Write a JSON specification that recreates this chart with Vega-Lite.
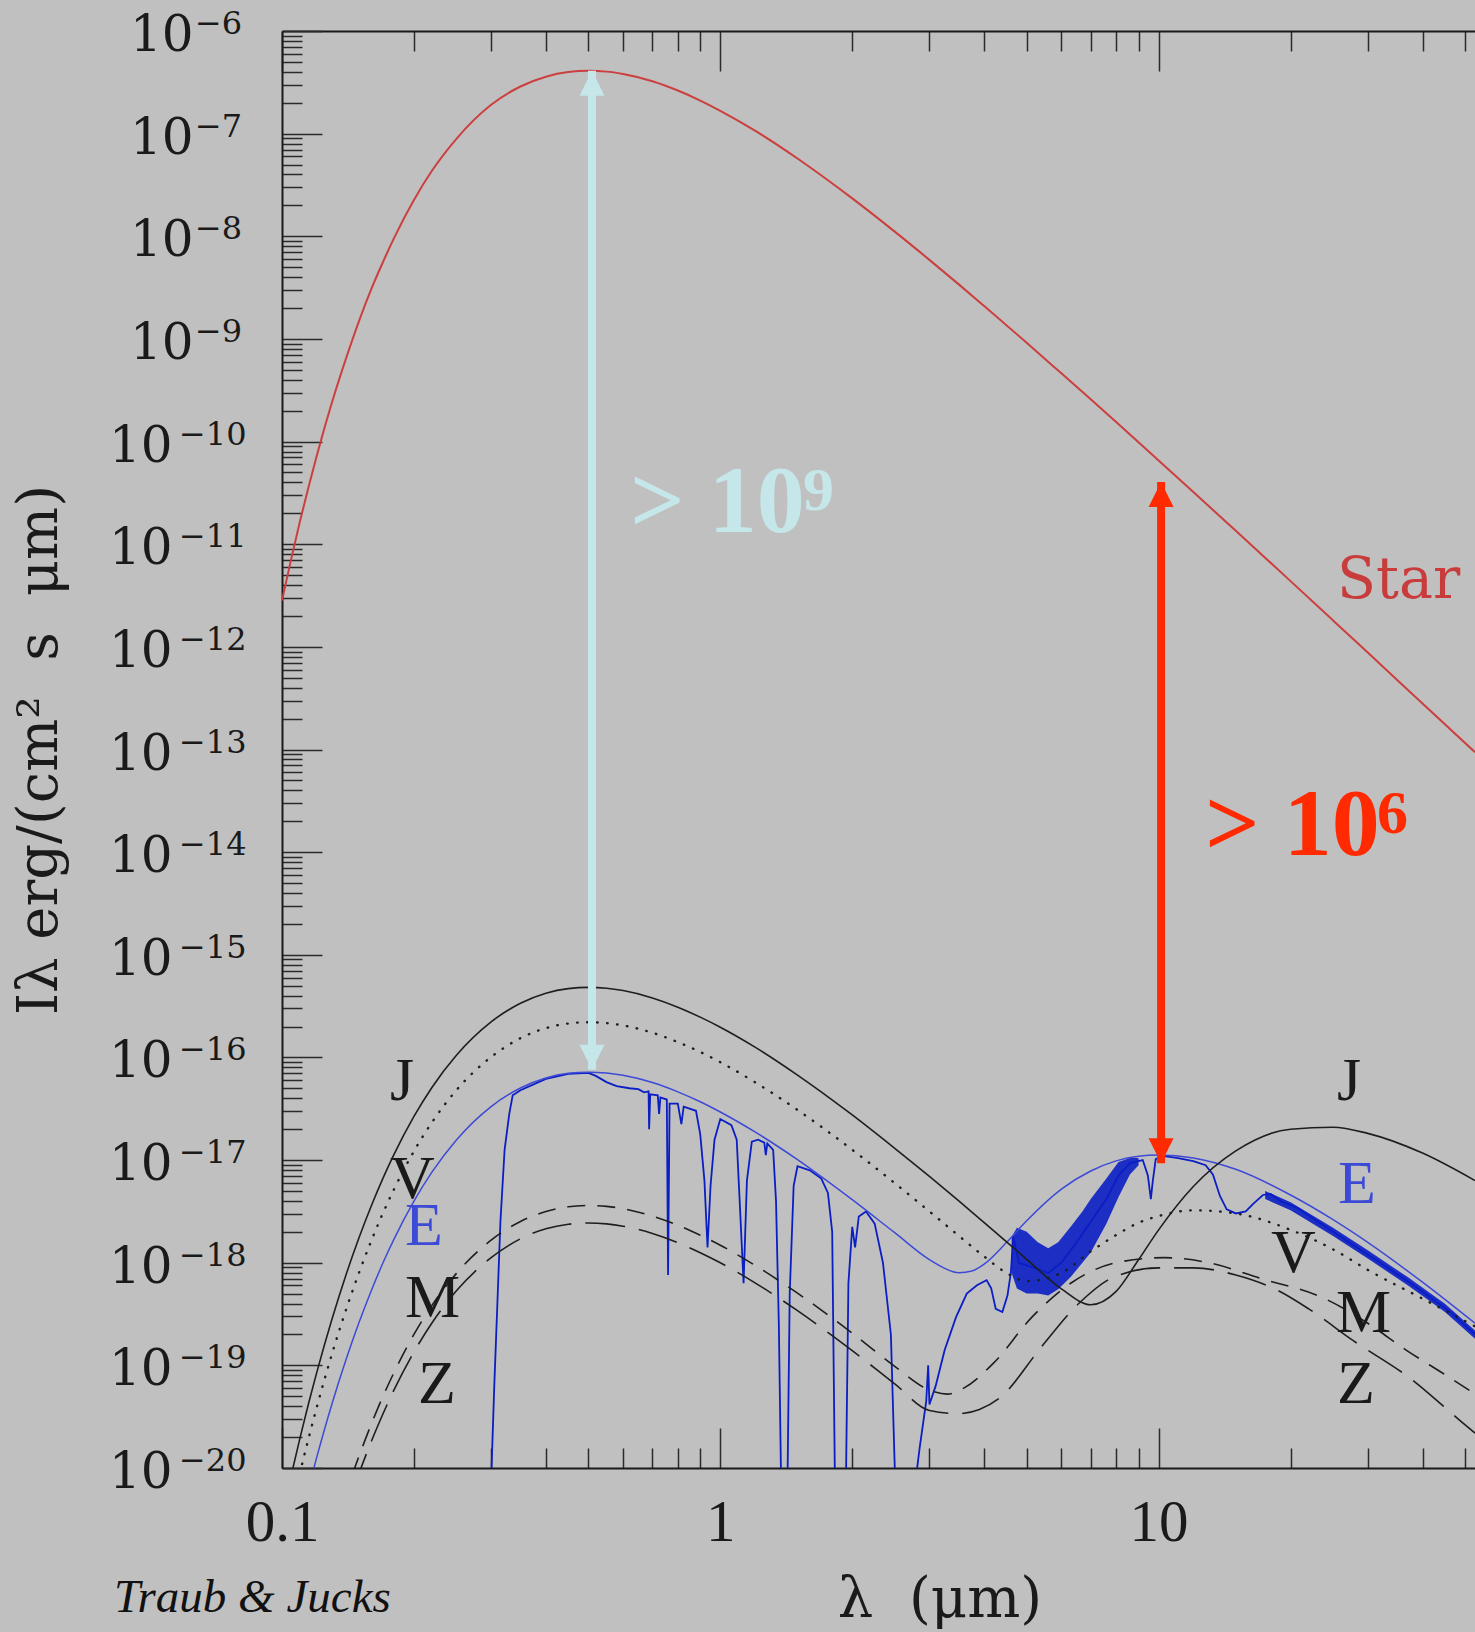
{
"$schema":"https://vega.github.io/schema/vega-lite/v6.json",
"width":1193,"height":1437,
"autosize":{"type":"none"},
"padding":{"left":282,"top":31,"right":0,"bottom":164},
"background":"#c0c0c0",
"config":{"view":{"stroke":null},"axis":{"grid":false}},
"resolve":{"axis":{"x":"independent","y":"independent"}},
"datasets":{
"star":[{"lam":0.1,"I":2.82e-12},{"lam":0.105,"I":7.24e-12},{"lam":0.11,"I":1.70e-11},{"lam":0.115,"I":3.63e-11},{"lam":0.12,"I":7.24e-11},{"lam":0.13,"I":2.40e-10},{"lam":0.14,"I":6.46e-10},{"lam":0.15,"I":1.51e-9},{"lam":0.16,"I":3.09e-9},{"lam":0.17,"I":5.62e-9},{"lam":0.18,"I":9.55e-9},{"lam":0.2,"I":2.26e-8},{"lam":0.22,"I":4.37e-8},{"lam":0.25,"I":8.91e-8},{"lam":0.3,"I":1.91e-7},{"lam":0.35,"I":2.88e-7},{"lam":0.4,"I":3.59e-7},{"lam":0.45,"I":3.98e-7},{"lam":0.5,"I":4.09e-7},{"lam":0.55,"I":4.02e-7},{"lam":0.6,"I":3.81e-7},{"lam":0.7,"I":3.24e-7},{"lam":0.8,"I":2.63e-7},{"lam":0.9,"I":2.10e-7},{"lam":1,"I":1.67e-7},{"lam":1.2,"I":1.07e-7},{"lam":1.5,"I":5.73e-8},{"lam":2,"I":2.34e-8},{"lam":2.5,"I":1.11e-8},{"lam":3,"I":5.89e-9},{"lam":3.5,"I":3.40e-9},{"lam":4,"I":2.09e-9},{"lam":5,"I":9.18e-10},{"lam":6,"I":4.62e-10},{"lam":7,"I":2.58e-10},{"lam":8,"I":1.55e-10},{"lam":10,"I":6.55e-11},{"lam":12,"I":3.23e-11},{"lam":15,"I":1.35e-11},{"lam":20,"I":4.37e-12},{"lam":25,"I":1.81e-12},{"lam":30,"I":8.79e-13},{"lam":40,"I":2.81e-13},{"lam":52.7,"I":9.42e-14}],
"jup":[{"lam":0.1,"I":3.33e-21},{"lam":0.105,"I":8.55e-21},{"lam":0.11,"I":1.99e-20},{"lam":0.115,"I":4.28e-20},{"lam":0.12,"I":8.49e-20},{"lam":0.13,"I":2.81e-19},{"lam":0.14,"I":7.64e-19},{"lam":0.15,"I":1.77e-18},{"lam":0.16,"I":3.61e-18},{"lam":0.17,"I":6.67e-18},{"lam":0.18,"I":1.13e-17},{"lam":0.2,"I":2.66e-17},{"lam":0.22,"I":5.13e-17},{"lam":0.25,"I":1.05e-16},{"lam":0.3,"I":2.22e-16},{"lam":0.35,"I":3.37e-16},{"lam":0.4,"I":4.22e-16},{"lam":0.45,"I":4.68e-16},{"lam":0.5,"I":4.81e-16},{"lam":0.55,"I":4.72e-16},{"lam":0.6,"I":4.48e-16},{"lam":0.7,"I":3.80e-16},{"lam":0.8,"I":3.09e-16},{"lam":0.9,"I":2.47e-16},{"lam":1,"I":1.97e-16},{"lam":1.2,"I":1.26e-16},{"lam":1.5,"I":6.73e-17},{"lam":2,"I":2.75e-17},{"lam":2.5,"I":1.30e-17},{"lam":3,"I":6.92e-18},{"lam":3.5,"I":4.00e-18},{"lam":4,"I":2.46e-18},{"lam":5,"I":1.08e-18},{"lam":6,"I":5.56e-19},{"lam":7,"I":3.89e-19},{"lam":8,"I":5.25e-19},{"lam":9,"I":1.07e-18},{"lam":10,"I":2.09e-18},{"lam":12,"I":5.53e-18},{"lam":15,"I":1.23e-17},{"lam":20,"I":2.00e-17},{"lam":25,"I":2.09e-17},{"lam":30,"I":1.82e-17},{"lam":40,"I":1.17e-17},{"lam":52.7,"I":6.31e-18}],
"ven":[{"lam":0.1,"I":1.52e-21},{"lam":0.105,"I":3.91e-21},{"lam":0.11,"I":9.10e-21},{"lam":0.115,"I":1.95e-20},{"lam":0.12,"I":3.88e-20},{"lam":0.13,"I":1.29e-19},{"lam":0.14,"I":3.49e-19},{"lam":0.15,"I":8.07e-19},{"lam":0.16,"I":1.65e-18},{"lam":0.17,"I":3.05e-18},{"lam":0.18,"I":5.16e-18},{"lam":0.2,"I":1.22e-17},{"lam":0.22,"I":2.34e-17},{"lam":0.25,"I":4.80e-17},{"lam":0.3,"I":1.01e-16},{"lam":0.35,"I":1.54e-16},{"lam":0.4,"I":1.93e-16},{"lam":0.45,"I":2.14e-16},{"lam":0.5,"I":2.20e-16},{"lam":0.55,"I":2.16e-16},{"lam":0.6,"I":2.05e-16},{"lam":0.7,"I":1.74e-16},{"lam":0.8,"I":1.41e-16},{"lam":0.9,"I":1.13e-16},{"lam":1,"I":8.99e-17},{"lam":1.2,"I":5.74e-17},{"lam":1.5,"I":3.08e-17},{"lam":2,"I":1.26e-17},{"lam":2.5,"I":5.96e-18},{"lam":3,"I":3.16e-18},{"lam":3.5,"I":1.83e-18},{"lam":4,"I":1.15e-18},{"lam":4.5,"I":7.94e-19},{"lam":5,"I":6.61e-19},{"lam":6,"I":7.94e-19},{"lam":7,"I":1.29e-18},{"lam":8,"I":1.86e-18},{"lam":9,"I":2.45e-18},{"lam":10,"I":2.85e-18},{"lam":12,"I":3.24e-18},{"lam":15,"I":3.02e-18},{"lam":20,"I":2.09e-18},{"lam":25,"I":1.35e-18},{"lam":30,"I":8.51e-19},{"lam":40,"I":4.47e-19},{"lam":52.7,"I":2.40e-19}],
"earth":[{"lam":0.1,"I":4.99e-22},{"lam":0.105,"I":1.28e-21},{"lam":0.11,"I":2.98e-21},{"lam":0.115,"I":6.40e-21},{"lam":0.12,"I":1.27e-20},{"lam":0.13,"I":4.21e-20},{"lam":0.14,"I":1.14e-19},{"lam":0.15,"I":2.64e-19},{"lam":0.16,"I":5.40e-19},{"lam":0.17,"I":9.98e-19},{"lam":0.18,"I":1.69e-18},{"lam":0.2,"I":3.98e-18},{"lam":0.22,"I":7.67e-18},{"lam":0.25,"I":1.57e-17},{"lam":0.3,"I":3.32e-17},{"lam":0.35,"I":5.04e-17},{"lam":0.4,"I":6.31e-17},{"lam":0.45,"I":7.00e-17},{"lam":0.5,"I":7.19e-17},{"lam":0.55,"I":7.06e-17},{"lam":0.6,"I":6.70e-17},{"lam":0.7,"I":5.69e-17},{"lam":0.8,"I":4.62e-17},{"lam":0.9,"I":3.70e-17},{"lam":1,"I":2.94e-17},{"lam":1.2,"I":1.88e-17},{"lam":1.5,"I":1.01e-17},{"lam":2,"I":4.11e-18},{"lam":2.5,"I":1.96e-18},{"lam":3,"I":1.07e-18},{"lam":3.25,"I":8.81e-19},{"lam":3.5,"I":7.98e-19},{"lam":3.75,"I":8.31e-19},{"lam":4,"I":9.70e-19},{"lam":4.5,"I":1.58e-18},{"lam":5,"I":2.56e-18},{"lam":6,"I":5.21e-18},{"lam":7,"I":7.82e-18},{"lam":8,"I":9.82e-18},{"lam":9,"I":1.09e-17},{"lam":10,"I":1.12e-17},{"lam":12,"I":1.05e-17},{"lam":15,"I":8.13e-18},{"lam":20,"I":4.57e-18},{"lam":25,"I":2.63e-18},{"lam":30,"I":1.58e-18},{"lam":40,"I":6.46e-19},{"lam":52.7,"I":2.57e-19}],
"mars":[{"lam":0.1,"I":2.50e-23},{"lam":0.13,"I":2.11e-21},{"lam":0.14,"I":5.73e-21},{"lam":0.15,"I":1.32e-20},{"lam":0.16,"I":2.70e-20},{"lam":0.17,"I":5.00e-20},{"lam":0.18,"I":8.47e-20},{"lam":0.2,"I":2.00e-19},{"lam":0.22,"I":3.85e-19},{"lam":0.25,"I":7.87e-19},{"lam":0.3,"I":1.66e-18},{"lam":0.35,"I":2.52e-18},{"lam":0.4,"I":3.16e-18},{"lam":0.45,"I":3.51e-18},{"lam":0.5,"I":3.61e-18},{"lam":0.55,"I":3.54e-18},{"lam":0.6,"I":3.36e-18},{"lam":0.7,"I":2.85e-18},{"lam":0.8,"I":2.32e-18},{"lam":0.9,"I":1.85e-18},{"lam":1,"I":1.48e-18},{"lam":1.2,"I":9.42e-19},{"lam":1.5,"I":5.05e-19},{"lam":2,"I":2.06e-19},{"lam":2.5,"I":9.77e-20},{"lam":3,"I":5.75e-20},{"lam":3.3,"I":5.25e-20},{"lam":3.6,"I":6.03e-20},{"lam":4.2,"I":1.05e-19},{"lam":5.14,"I":2.95e-19},{"lam":6.3,"I":6.31e-19},{"lam":8,"I":1.00e-18},{"lam":10.3,"I":1.12e-18},{"lam":13,"I":1.00e-18},{"lam":17,"I":7.08e-19},{"lam":24.2,"I":4.37e-19},{"lam":30,"I":2.57e-19},{"lam":36.7,"I":1.41e-19},{"lam":45,"I":8.13e-20},{"lam":52.7,"I":5.25e-20}],
"zodi":[{"lam":0.1,"I":1.69e-23},{"lam":0.14,"I":3.87e-21},{"lam":0.15,"I":8.95e-21},{"lam":0.16,"I":1.83e-20},{"lam":0.17,"I":3.38e-20},{"lam":0.18,"I":5.73e-20},{"lam":0.2,"I":1.35e-19},{"lam":0.22,"I":2.60e-19},{"lam":0.25,"I":5.32e-19},{"lam":0.3,"I":1.12e-18},{"lam":0.35,"I":1.71e-18},{"lam":0.4,"I":2.14e-18},{"lam":0.45,"I":2.37e-18},{"lam":0.5,"I":2.44e-18},{"lam":0.55,"I":2.39e-18},{"lam":0.6,"I":2.27e-18},{"lam":0.7,"I":1.93e-18},{"lam":0.8,"I":1.57e-18},{"lam":0.9,"I":1.25e-18},{"lam":1,"I":9.98e-19},{"lam":1.2,"I":6.37e-19},{"lam":1.5,"I":3.41e-19},{"lam":2,"I":1.39e-19},{"lam":2.5,"I":6.61e-20},{"lam":3,"I":3.63e-20},{"lam":3.5,"I":3.39e-20},{"lam":3.9,"I":3.72e-20},{"lam":4.36,"I":4.90e-20},{"lam":5.4,"I":1.51e-19},{"lam":6.6,"I":4.07e-19},{"lam":7.9,"I":7.24e-19},{"lam":10,"I":8.91e-19},{"lam":12,"I":8.91e-19},{"lam":15,"I":7.59e-19},{"lam":18.7,"I":5.37e-19},{"lam":22,"I":3.55e-19},{"lam":27.8,"I":1.74e-19},{"lam":37.6,"I":7.41e-20},{"lam":48.8,"I":2.88e-20},{"lam":52.7,"I":2.19e-20}],
"espec":[{"lam":0.298,"I":3.16e-21},{"lam":0.305,"I":6.31e-20},{"lam":0.31,"I":3.98e-19},{"lam":0.315,"I":2.51e-18},{"lam":0.322,"I":1.26e-17},{"lam":0.33,"I":2.82e-17},{"lam":0.336,"I":4.27e-17},{"lam":0.35,"I":4.79e-17},{"lam":0.4,"I":6.17e-17},{"lam":0.45,"I":6.92e-17},{"lam":0.5,"I":7.08e-17},{"lam":0.52,"I":6.61e-17},{"lam":0.55,"I":5.75e-17},{"lam":0.58,"I":5.25e-17},{"lam":0.62,"I":5.01e-17},{"lam":0.65,"I":4.90e-17},{"lam":0.67,"I":4.57e-17},{"lam":0.686,"I":4.68e-17},{"lam":0.688,"I":2.00e-17},{"lam":0.692,"I":4.37e-17},{"lam":0.72,"I":4.27e-17},{"lam":0.725,"I":2.82e-17},{"lam":0.73,"I":4.07e-17},{"lam":0.755,"I":3.89e-17},{"lam":0.76,"I":7.59e-19},{"lam":0.766,"I":3.55e-17},{"lam":0.8,"I":3.55e-17},{"lam":0.815,"I":2.24e-17},{"lam":0.825,"I":3.31e-17},{"lam":0.88,"I":3.02e-17},{"lam":0.9,"I":1.78e-17},{"lam":0.92,"I":6.31e-18},{"lam":0.935,"I":1.41e-18},{"lam":0.95,"I":5.62e-18},{"lam":0.97,"I":1.58e-17},{"lam":1.0,"I":2.51e-17},{"lam":1.06,"I":2.19e-17},{"lam":1.09,"I":1.58e-17},{"lam":1.11,"I":3.16e-18},{"lam":1.13,"I":6.31e-19},{"lam":1.15,"I":6.31e-18},{"lam":1.18,"I":1.51e-17},{"lam":1.22,"I":1.58e-17},{"lam":1.26,"I":1.48e-17},{"lam":1.27,"I":1.12e-17},{"lam":1.28,"I":1.45e-17},{"lam":1.32,"I":1.26e-17},{"lam":1.34,"I":3.98e-18},{"lam":1.36,"I":2.51e-19},{"lam":1.38,"I":3.16e-21},{"lam":1.42,"I":3.16e-21},{"lam":1.44,"I":5.01e-19},{"lam":1.47,"I":5.62e-18},{"lam":1.5,"I":8.71e-18},{"lam":1.6,"I":7.94e-18},{"lam":1.7,"I":6.61e-18},{"lam":1.76,"I":4.79e-18},{"lam":1.8,"I":2.00e-18},{"lam":1.83,"I":3.16e-21},{"lam":1.93,"I":3.16e-21},{"lam":1.96,"I":6.31e-19},{"lam":2.0,"I":2.24e-18},{"lam":2.03,"I":1.41e-18},{"lam":2.07,"I":2.82e-18},{"lam":2.15,"I":3.16e-18},{"lam":2.25,"I":2.40e-18},{"lam":2.35,"I":1.00e-18},{"lam":2.45,"I":2.00e-19},{"lam":2.52,"I":3.16e-21},{"lam":2.72,"I":3.16e-21},{"lam":2.85,"I":1.58e-20},{"lam":2.95,"I":4.47e-20},{"lam":2.98,"I":1.00e-19},{"lam":3.0,"I":4.17e-20},{"lam":3.1,"I":6.31e-20},{"lam":3.25,"I":1.41e-19},{"lam":3.45,"I":2.95e-19},{"lam":3.65,"I":5.01e-19},{"lam":3.85,"I":6.03e-19},{"lam":4.05,"I":6.76e-19},{"lam":4.15,"I":5.62e-19},{"lam":4.25,"I":3.55e-19},{"lam":4.4,"I":3.31e-19},{"lam":4.52,"I":4.79e-19},{"lam":4.6,"I":7.94e-19},{"lam":4.66,"I":1.78e-18},{"lam":4.8,"I":1.00e-18},{"lam":5.2,"I":8.91e-19},{"lam":5.6,"I":7.94e-19},{"lam":6.0,"I":1.00e-18},{"lam":6.5,"I":1.58e-18},{"lam":7.0,"I":2.51e-18},{"lam":7.6,"I":4.17e-18},{"lam":8.1,"I":7.08e-18},{"lam":8.6,"I":9.33e-18},{"lam":9.2,"I":1.00e-17},{"lam":9.45,"I":7.08e-18},{"lam":9.6,"I":4.17e-18},{"lam":9.7,"I":6.31e-18},{"lam":9.85,"I":1.02e-17},{"lam":10.2,"I":1.10e-17},{"lam":11,"I":1.05e-17},{"lam":12,"I":9.77e-18},{"lam":12.8,"I":8.91e-18},{"lam":13.3,"I":7.24e-18},{"lam":13.8,"I":4.47e-18},{"lam":14.3,"I":3.31e-18},{"lam":15,"I":3.02e-18},{"lam":15.8,"I":3.16e-18},{"lam":16.5,"I":3.80e-18},{"lam":17.3,"I":4.57e-18},{"lam":18,"I":4.68e-18},{"lam":19,"I":3.98e-18},{"lam":20.8,"I":3.39e-18},{"lam":25,"I":2.00e-18},{"lam":30,"I":1.20e-18},{"lam":37.6,"I":6.31e-19},{"lam":46,"I":3.39e-19},{"lam":52.7,"I":2.00e-19}],
"bands":[{"band":"a","lam":4.62,"lo":7.94e-19,"hi":1.78e-18},{"band":"a","lam":4.75,"lo":5.62e-19,"hi":2.19e-18},{"band":"a","lam":5.0,"lo":5.01e-19,"hi":2.00e-18},{"band":"a","lam":5.3,"lo":5.01e-19,"hi":1.58e-18},{"band":"a","lam":5.6,"lo":4.79e-19,"hi":1.38e-18},{"band":"a","lam":5.9,"lo":5.50e-19,"hi":1.58e-18},{"band":"a","lam":6.3,"lo":7.24e-19,"hi":2.24e-18},{"band":"a","lam":6.7,"lo":1.00e-18,"hi":3.16e-18},{"band":"a","lam":7.0,"lo":1.26e-18,"hi":4.17e-18},{"band":"a","lam":7.6,"lo":2.40e-18,"hi":6.61e-18},{"band":"a","lam":8.1,"lo":4.37e-18,"hi":9.55e-18},{"band":"a","lam":8.6,"lo":7.24e-18,"hi":1.05e-17},{"band":"a","lam":9.0,"lo":8.91e-18,"hi":1.05e-17},{"band":"b","lam":17.5,"lo":4.17e-18,"hi":5.01e-18},{"band":"b","lam":20,"lo":3.24e-18,"hi":3.89e-18},{"band":"b","lam":25,"lo":1.82e-18,"hi":2.19e-18},{"band":"b","lam":30,"lo":1.10e-18,"hi":1.32e-18},{"band":"b","lam":37,"lo":6.03e-19,"hi":7.24e-19},{"band":"b","lam":45,"lo":3.31e-19,"hi":3.98e-19},{"band":"b","lam":52.7,"lo":1.82e-19,"hi":2.19e-19}],
"arrows":[{"arrow":"vis","lam":0.5096,"top":4.11e-7,"bot":7.59e-17},{"arrow":"ir","lam":10.13,"top":4.04e-11,"bot":9.33e-18}],
"ylab":[{"n":6,"I":1e-6,"e":"−6"},{"n":7,"I":1e-7,"e":"−7"},{"n":8,"I":1e-8,"e":"−8"},{"n":9,"I":1e-9,"e":"−9"},{"n":10,"I":1e-10,"e":"−10"},{"n":11,"I":1e-11,"e":"−11"},{"n":12,"I":1e-12,"e":"−12"},{"n":13,"I":1e-13,"e":"−13"},{"n":14,"I":1e-14,"e":"−14"},{"n":15,"I":1e-15,"e":"−15"},{"n":16,"I":1e-16,"e":"−16"},{"n":17,"I":1e-17,"e":"−17"},{"n":18,"I":1e-18,"e":"−18"},{"n":19,"I":1e-19,"e":"−19"},{"n":20,"I":1e-20,"e":"−20"}],
"labels":[{"t":"J","g":"k","lam":0.1764,"I":3.85e-17},{"t":"V","g":"k","lam":0.1764,"I":4.27e-18},{"t":"E","g":"b","lam":0.1909,"I":1.49e-18},{"t":"M","g":"k","lam":0.1909,"I":2.96e-19},{"t":"Z","g":"k","lam":0.2043,"I":4.30e-20},{"t":"J","g":"k","lam":25.53,"I":3.85e-17},{"t":"E","g":"b","lam":25.66,"I":3.81e-18},{"t":"V","g":"k","lam":18.05,"I":8.11e-19},{"t":"M","g":"k","lam":25.4,"I":2.11e-19},{"t":"Z","g":"k","lam":25.53,"I":4.30e-20}],
"notes":[{"k":"star","t":"Star","lam":25.53,"I":2.99e-12},{"k":"visbase","t":"> 10","lam":0.622,"I":1.32e-11},{"k":"vissup","t":"9","lam":1.544,"I":2.14e-11},{"k":"irbase","t":"> 10","lam":12.76,"I":9.33e-15},{"k":"irsup","t":"6","lam":31.5,"I":1.55e-14},{"k":"xtitle","t":"λ\u00a0\u00a0(μm)","lam":3.17,"I":3.53e-22},{"k":"credit","t":"Traub & Jucks","lam":0.04138,"I":3.95e-22}]
},
"layer":[
{"data":{"name":"star"},"mark":{"type":"line","clip":true,"color":"#cc3f3f","strokeWidth":2,"interpolate":"monotone"},
 "encoding":{
  "x":{"field":"lam","type":"quantitative","scale":{"type":"log","domain":[0.1,52.7],"nice":false},
   "axis":{"orient":"bottom","values":[0.1,0.2,0.3,0.4,0.5,0.6,0.7,0.8,0.9,1,2,3,4,5,6,7,8,9,10,20,30,40,50],
    "tickSize":{"condition":{"test":"abs(log(datum.value)/LN10 - round(log(datum.value)/LN10)) < 0.01","value":-40},"value":-20},
    "tickColor":"#2a2a2a","tickWidth":1.5,"domainColor":"#1a1a1a","domainWidth":2,
    "labelExpr":"abs(log(datum.value)/LN10 - round(log(datum.value)/LN10)) < 0.01 ? (datum.value < 0.5 ? '0.1' : (datum.value < 5 ? '1' : '10')) : ''",
    "labelFont":"Liberation Serif","labelFontSize":59,"labelColor":"#1a1a1a","labelBaseline":"alphabetic","labelPadding":112,"labelOverlap":false,"labelFlush":false,"labelBound":false,"title":null,"grid":false}},
  "y":{"field":"I","type":"quantitative","scale":{"type":"log","domain":[1e-20,1e-6],"nice":false},
   "axis":{"orient":"left","values":[1e-6,1e-7,1e-8,1e-9,1e-10,1e-11,1e-12,1e-13,1e-14,1e-15,1e-16,1e-17,1e-18,1e-19,1e-20,
     2e-7,3e-7,4e-7,5e-7,6e-7,7e-7,8e-7,9e-7,2e-8,3e-8,4e-8,5e-8,6e-8,7e-8,8e-8,9e-8,2e-9,3e-9,4e-9,5e-9,6e-9,7e-9,8e-9,9e-9,
     2e-10,3e-10,4e-10,5e-10,6e-10,7e-10,8e-10,9e-10,2e-11,3e-11,4e-11,5e-11,6e-11,7e-11,8e-11,9e-11,2e-12,3e-12,4e-12,5e-12,6e-12,7e-12,8e-12,9e-12,
     2e-13,3e-13,4e-13,5e-13,6e-13,7e-13,8e-13,9e-13,2e-14,3e-14,4e-14,5e-14,6e-14,7e-14,8e-14,9e-14,2e-15,3e-15,4e-15,5e-15,6e-15,7e-15,8e-15,9e-15,
     2e-16,3e-16,4e-16,5e-16,6e-16,7e-16,8e-16,9e-16,2e-17,3e-17,4e-17,5e-17,6e-17,7e-17,8e-17,9e-17,2e-18,3e-18,4e-18,5e-18,6e-18,7e-18,8e-18,9e-18,
     2e-19,3e-19,4e-19,5e-19,6e-19,7e-19,8e-19,9e-19,2e-20,3e-20,4e-20,5e-20,6e-20,7e-20,8e-20,9e-20],
    "tickSize":{"condition":{"test":"abs(log(datum.value)/LN10 - round(log(datum.value)/LN10)) < 0.01","value":-40},"value":-20},
    "tickColor":"#2a2a2a","tickWidth":1.5,"domainColor":"#1a1a1a","domainWidth":2,"labels":false,
    "title":"Iλ erg/(cm²\u00a0\u00a0s\u00a0\u00a0μm)","titleFont":"DejaVu Serif","titleFontSize":56,"titleFontWeight":"normal","titleColor":"#1a1a1a","titlePadding":213,"grid":false}}}},
{"data":{"name":"bands"},"mark":{"type":"area","clip":true,"color":"#0a1ec4","opacity":0.9},
 "encoding":{"x":{"field":"lam","type":"quantitative","scale":{"type":"log","domain":[0.1,52.7],"nice":false},"axis":null},
  "y":{"field":"lo","type":"quantitative","scale":{"type":"log","domain":[1e-20,1e-6],"nice":false},"axis":null},
  "y2":{"field":"hi"},"detail":{"field":"band"}}},
{"data":{"name":"espec"},"mark":{"type":"line","clip":true,"color":"#0a1ec4","strokeWidth":1.8},
 "encoding":{"x":{"field":"lam","type":"quantitative","scale":{"type":"log","domain":[0.1,52.7],"nice":false},"axis":null},
  "y":{"field":"I","type":"quantitative","scale":{"type":"log","domain":[1e-20,1e-6],"nice":false},"axis":null}}},
{"data":{"name":"earth"},"mark":{"type":"line","clip":true,"color":"#3d4ad6","strokeWidth":1.5,"interpolate":"monotone"},
 "encoding":{"x":{"field":"lam","type":"quantitative","scale":{"type":"log","domain":[0.1,52.7],"nice":false},"axis":null},
  "y":{"field":"I","type":"quantitative","scale":{"type":"log","domain":[1e-20,1e-6],"nice":false},"axis":null}}},
{"data":{"name":"jup"},"mark":{"type":"line","clip":true,"color":"#1e1e1e","strokeWidth":1.6,"interpolate":"monotone"},
 "encoding":{"x":{"field":"lam","type":"quantitative","scale":{"type":"log","domain":[0.1,52.7],"nice":false},
   "axis":{"orient":"top","values":[0.1,0.2,0.3,0.4,0.5,0.6,0.7,0.8,0.9,1,2,3,4,5,6,7,8,9,10,20,30,40,50],
    "tickSize":{"condition":{"test":"abs(log(datum.value)/LN10 - round(log(datum.value)/LN10)) < 0.01","value":-40},"value":-20},
    "tickColor":"#2a2a2a","tickWidth":1.5,"domainColor":"#1a1a1a","domainWidth":2,"labels":false,"title":null,"grid":false}},
  "y":{"field":"I","type":"quantitative","scale":{"type":"log","domain":[1e-20,1e-6],"nice":false},"axis":null}}},
{"data":{"name":"ven"},"mark":{"type":"line","clip":true,"color":"#1e1e1e","strokeWidth":2.4,"strokeDash":[0.5,9.5],"strokeCap":"round","interpolate":"monotone"},
 "encoding":{"x":{"field":"lam","type":"quantitative","scale":{"type":"log","domain":[0.1,52.7],"nice":false},"axis":null},
  "y":{"field":"I","type":"quantitative","scale":{"type":"log","domain":[1e-20,1e-6],"nice":false},"axis":null}}},
{"data":{"name":"mars"},"mark":{"type":"line","clip":true,"color":"#1e1e1e","strokeWidth":1.6,"strokeDash":[18,12],"interpolate":"monotone"},
 "encoding":{"x":{"field":"lam","type":"quantitative","scale":{"type":"log","domain":[0.1,52.7],"nice":false},"axis":null},
  "y":{"field":"I","type":"quantitative","scale":{"type":"log","domain":[1e-20,1e-6],"nice":false},"axis":null}}},
{"data":{"name":"zodi"},"mark":{"type":"line","clip":true,"color":"#1e1e1e","strokeWidth":1.6,"strokeDash":[40,14],"interpolate":"monotone"},
 "encoding":{"x":{"field":"lam","type":"quantitative","scale":{"type":"log","domain":[0.1,52.7],"nice":false},"axis":null},
  "y":{"field":"I","type":"quantitative","scale":{"type":"log","domain":[1e-20,1e-6],"nice":false},"axis":null}}},
{"data":{"name":"arrows"},"transform":[{"filter":"datum.arrow == 'vis'"}],"mark":{"type":"rule","color":"#c5e7ea","strokeWidth":8},
 "encoding":{"x":{"field":"lam","type":"quantitative","scale":{"type":"log","domain":[0.1,52.7],"nice":false},"axis":null},
  "y":{"field":"top","type":"quantitative","scale":{"type":"log","domain":[1e-20,1e-6],"nice":false},"axis":null},"y2":{"field":"bot"}}},
{"data":{"name":"arrows"},"transform":[{"filter":"datum.arrow == 'ir'"}],"mark":{"type":"rule","color":"#ff2a00","strokeWidth":8},
 "encoding":{"x":{"field":"lam","type":"quantitative","scale":{"type":"log","domain":[0.1,52.7],"nice":false},"axis":null},
  "y":{"field":"top","type":"quantitative","scale":{"type":"log","domain":[1e-20,1e-6],"nice":false},"axis":null},"y2":{"field":"bot"}}},
{"data":{"name":"arrows"},"transform":[{"filter":"datum.arrow == 'vis'"}],"mark":{"type":"point","shape":"M0,0L-1,2L1,2Z","size":625,"filled":true,"opacity":1,"color":"#c5e7ea"},
 "encoding":{"x":{"field":"lam","type":"quantitative","scale":{"type":"log","domain":[0.1,52.7],"nice":false},"axis":null},
  "y":{"field":"top","type":"quantitative","scale":{"type":"log","domain":[1e-20,1e-6],"nice":false},"axis":null}}},
{"data":{"name":"arrows"},"transform":[{"filter":"datum.arrow == 'vis'"}],"mark":{"type":"point","shape":"M0,0L-1,-2L1,-2Z","size":625,"filled":true,"opacity":1,"color":"#c5e7ea"},
 "encoding":{"x":{"field":"lam","type":"quantitative","scale":{"type":"log","domain":[0.1,52.7],"nice":false},"axis":null},
  "y":{"field":"bot","type":"quantitative","scale":{"type":"log","domain":[1e-20,1e-6],"nice":false},"axis":null}}},
{"data":{"name":"arrows"},"transform":[{"filter":"datum.arrow == 'ir'"}],"mark":{"type":"point","shape":"M0,0L-1,2L1,2Z","size":625,"filled":true,"opacity":1,"color":"#ff2a00"},
 "encoding":{"x":{"field":"lam","type":"quantitative","scale":{"type":"log","domain":[0.1,52.7],"nice":false},"axis":null},
  "y":{"field":"top","type":"quantitative","scale":{"type":"log","domain":[1e-20,1e-6],"nice":false},"axis":null}}},
{"data":{"name":"arrows"},"transform":[{"filter":"datum.arrow == 'ir'"}],"mark":{"type":"point","shape":"M0,0L-1,-2L1,-2Z","size":625,"filled":true,"opacity":1,"color":"#ff2a00"},
 "encoding":{"x":{"field":"lam","type":"quantitative","scale":{"type":"log","domain":[0.1,52.7],"nice":false},"axis":null},
  "y":{"field":"bot","type":"quantitative","scale":{"type":"log","domain":[1e-20,1e-6],"nice":false},"axis":null}}},
{"data":{"name":"ylab"},"transform":[{"filter":"datum.n < 10"}],"mark":{"type":"text","align":"left","baseline":"alphabetic","dx":-152,"dy":20,"font":"DejaVu Serif","fontSize":50,"color":"#1a1a1a"},
 "encoding":{"x":{"datum":0.1,"type":"quantitative","scale":{"type":"log","domain":[0.1,52.7],"nice":false},"axis":null},
  "y":{"field":"I","type":"quantitative","scale":{"type":"log","domain":[1e-20,1e-6],"nice":false},"axis":null},"text":{"value":"10"}}},
{"data":{"name":"ylab"},"transform":[{"filter":"datum.n >= 10"}],"mark":{"type":"text","align":"left","baseline":"alphabetic","dx":-173,"dy":20,"font":"DejaVu Serif","fontSize":50,"color":"#1a1a1a"},
 "encoding":{"x":{"datum":0.1,"type":"quantitative","scale":{"type":"log","domain":[0.1,52.7],"nice":false},"axis":null},
  "y":{"field":"I","type":"quantitative","scale":{"type":"log","domain":[1e-20,1e-6],"nice":false},"axis":null},"text":{"value":"10"}}},
{"data":{"name":"ylab"},"transform":[{"filter":"datum.n < 10"}],"mark":{"type":"text","align":"left","baseline":"alphabetic","dx":-87,"dy":3,"font":"DejaVu Serif","fontSize":32,"color":"#1a1a1a"},
 "encoding":{"x":{"datum":0.1,"type":"quantitative","scale":{"type":"log","domain":[0.1,52.7],"nice":false},"axis":null},
  "y":{"field":"I","type":"quantitative","scale":{"type":"log","domain":[1e-20,1e-6],"nice":false},"axis":null},"text":{"field":"e"}}},
{"data":{"name":"ylab"},"transform":[{"filter":"datum.n >= 10"}],"mark":{"type":"text","align":"left","baseline":"alphabetic","dx":-103,"dy":3,"font":"DejaVu Serif","fontSize":32,"color":"#1a1a1a"},
 "encoding":{"x":{"datum":0.1,"type":"quantitative","scale":{"type":"log","domain":[0.1,52.7],"nice":false},"axis":null},
  "y":{"field":"I","type":"quantitative","scale":{"type":"log","domain":[1e-20,1e-6],"nice":false},"axis":null},"text":{"field":"e"}}},
{"data":{"name":"labels"},"transform":[{"filter":"datum.g == 'k'"}],"mark":{"type":"text","align":"left","baseline":"alphabetic","font":"Liberation Serif","fontSize":62,"color":"#1a1a1a"},
 "encoding":{"x":{"field":"lam","type":"quantitative","scale":{"type":"log","domain":[0.1,52.7],"nice":false},"axis":null},
  "y":{"field":"I","type":"quantitative","scale":{"type":"log","domain":[1e-20,1e-6],"nice":false},"axis":null},"text":{"field":"t"}}},
{"data":{"name":"labels"},"transform":[{"filter":"datum.g == 'b'"}],"mark":{"type":"text","align":"left","baseline":"alphabetic","font":"Liberation Serif","fontSize":62,"color":"#3d4ad6"},
 "encoding":{"x":{"field":"lam","type":"quantitative","scale":{"type":"log","domain":[0.1,52.7],"nice":false},"axis":null},
  "y":{"field":"I","type":"quantitative","scale":{"type":"log","domain":[1e-20,1e-6],"nice":false},"axis":null},"text":{"field":"t"}}},
{"data":{"name":"notes"},"transform":[{"filter":"datum.k == 'star'"}],"mark":{"type":"text","align":"left","baseline":"alphabetic","font":"DejaVu Serif","fontSize":57,"color":"#c93c3c"},
 "encoding":{"x":{"field":"lam","type":"quantitative","scale":{"type":"log","domain":[0.1,52.7],"nice":false},"axis":null},
  "y":{"field":"I","type":"quantitative","scale":{"type":"log","domain":[1e-20,1e-6],"nice":false},"axis":null},"text":{"field":"t"}}},
{"data":{"name":"notes"},"transform":[{"filter":"datum.k == 'visbase'"}],"mark":{"type":"text","align":"left","baseline":"alphabetic","font":"Liberation Serif","fontWeight":"bold","fontSize":96,"color":"#c5e7ea"},
 "encoding":{"x":{"field":"lam","type":"quantitative","scale":{"type":"log","domain":[0.1,52.7],"nice":false},"axis":null},
  "y":{"field":"I","type":"quantitative","scale":{"type":"log","domain":[1e-20,1e-6],"nice":false},"axis":null},"text":{"field":"t"}}},
{"data":{"name":"notes"},"transform":[{"filter":"datum.k == 'vissup'"}],"mark":{"type":"text","align":"left","baseline":"alphabetic","font":"Liberation Serif","fontWeight":"bold","fontSize":62,"color":"#c5e7ea"},
 "encoding":{"x":{"field":"lam","type":"quantitative","scale":{"type":"log","domain":[0.1,52.7],"nice":false},"axis":null},
  "y":{"field":"I","type":"quantitative","scale":{"type":"log","domain":[1e-20,1e-6],"nice":false},"axis":null},"text":{"field":"t"}}},
{"data":{"name":"notes"},"transform":[{"filter":"datum.k == 'irbase'"}],"mark":{"type":"text","align":"left","baseline":"alphabetic","font":"Liberation Serif","fontWeight":"bold","fontSize":96,"color":"#ff2a00"},
 "encoding":{"x":{"field":"lam","type":"quantitative","scale":{"type":"log","domain":[0.1,52.7],"nice":false},"axis":null},
  "y":{"field":"I","type":"quantitative","scale":{"type":"log","domain":[1e-20,1e-6],"nice":false},"axis":null},"text":{"field":"t"}}},
{"data":{"name":"notes"},"transform":[{"filter":"datum.k == 'irsup'"}],"mark":{"type":"text","align":"left","baseline":"alphabetic","font":"Liberation Serif","fontWeight":"bold","fontSize":62,"color":"#ff2a00"},
 "encoding":{"x":{"field":"lam","type":"quantitative","scale":{"type":"log","domain":[0.1,52.7],"nice":false},"axis":null},
  "y":{"field":"I","type":"quantitative","scale":{"type":"log","domain":[1e-20,1e-6],"nice":false},"axis":null},"text":{"field":"t"}}},
{"data":{"name":"notes"},"transform":[{"filter":"datum.k == 'xtitle'"}],"mark":{"type":"text","align":"center","baseline":"alphabetic","font":"DejaVu Serif","fontSize":56,"color":"#1a1a1a"},
 "encoding":{"x":{"field":"lam","type":"quantitative","scale":{"type":"log","domain":[0.1,52.7],"nice":false},"axis":null},
  "y":{"field":"I","type":"quantitative","scale":{"type":"log","domain":[1e-20,1e-6],"nice":false},"axis":null},"text":{"field":"t"}}},
{"data":{"name":"notes"},"transform":[{"filter":"datum.k == 'credit'"}],"mark":{"type":"text","align":"left","baseline":"alphabetic","font":"Liberation Serif","fontStyle":"italic","fontSize":47,"color":"#111111"},
 "encoding":{"x":{"field":"lam","type":"quantitative","scale":{"type":"log","domain":[0.1,52.7],"nice":false},"axis":null},
  "y":{"field":"I","type":"quantitative","scale":{"type":"log","domain":[1e-20,1e-6],"nice":false},"axis":null},"text":{"field":"t"}}}
]
}
